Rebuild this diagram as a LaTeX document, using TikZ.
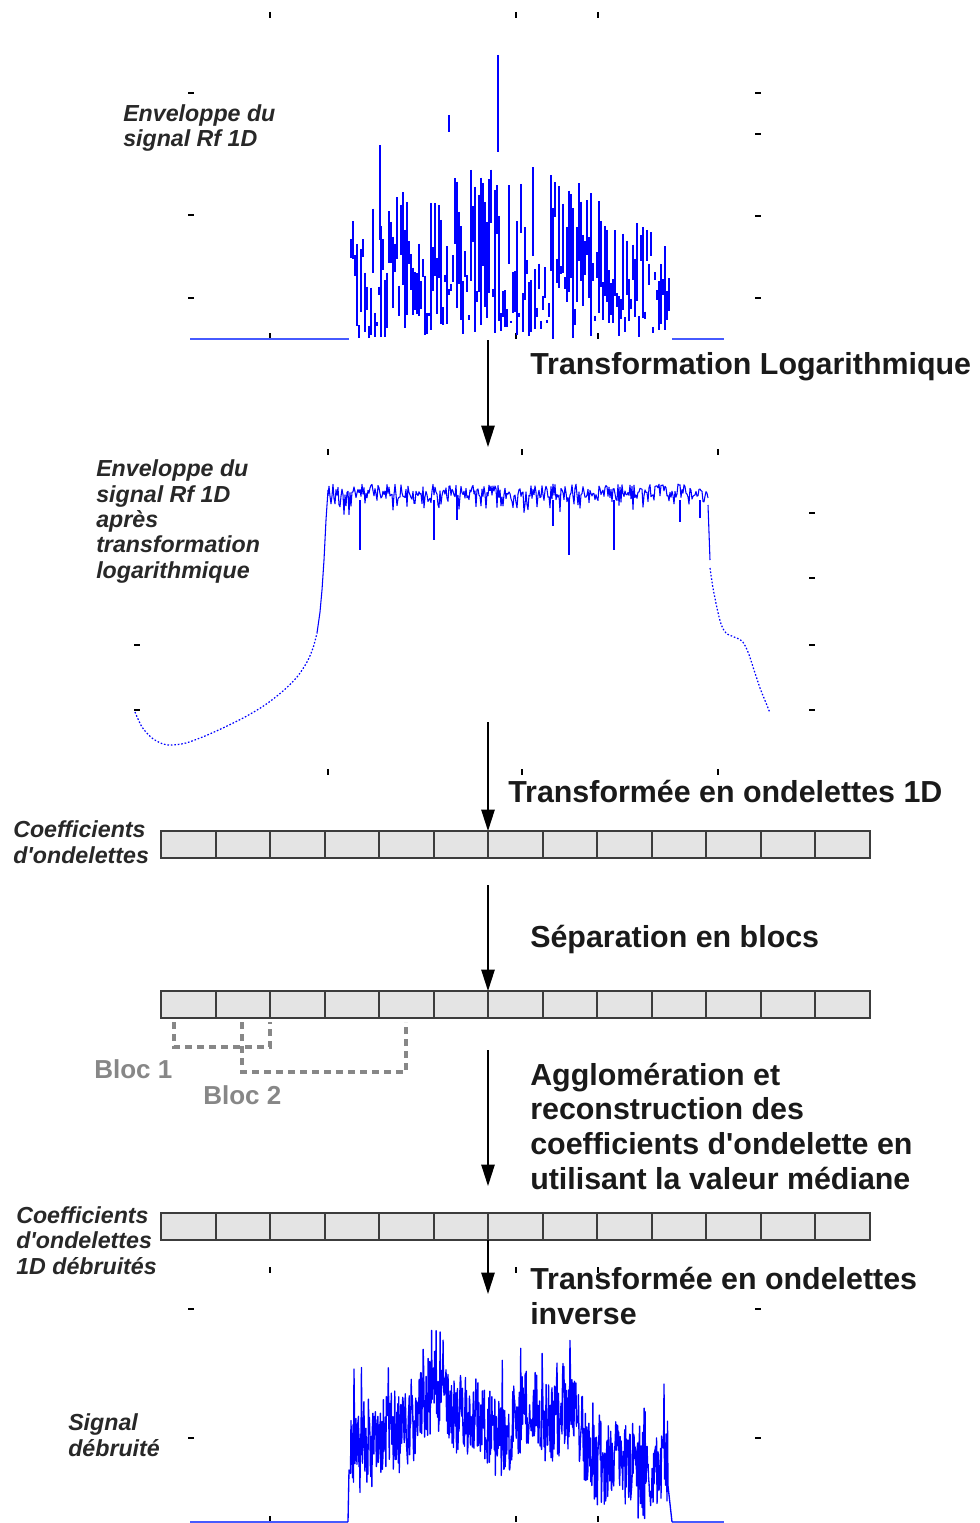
\documentclass[tikz,border=0pt]{standalone}
\usepackage{fontspec}
\setmainfont{Liberation Sans}
\usetikzlibrary{arrows.meta}

\definecolor{sigblue}{RGB}{0,0,255}
\definecolor{baseblue}{RGB}{70,90,255}
\definecolor{txtdark}{RGB}{26,26,26}
\definecolor{txtital}{RGB}{40,40,40}
\definecolor{blocgray}{RGB}{135,135,135}
\definecolor{cellfill}{RGB}{228,228,228}
\definecolor{cellline}{RGB}{60,60,60}

\tikzset{
  flowtxt/.style={font=\fontsize{22.8}{25.9}\selectfont\bfseries, text=txtdark, inner sep=0pt, anchor=base west, align=left},
  axtxt/.style={font=\fontsize{17.4}{19}\selectfont\bfseries\itshape, text=txtital, inner sep=0pt, anchor=base west, align=left},
  bloctxt/.style={font=\fontsize{19.5}{22}\selectfont\bfseries, text=blocgray, inner sep=0pt, anchor=base west},
  flowarrow/.style={draw=black, line width=1.1pt, -{Triangle[length=16pt,width=10pt]}},
  tick/.style={draw=black, line width=0.8pt},
  spike/.style={color=sigblue, draw=sigblue, line width=0.8pt},
  sig/.style={draw=sigblue, line width=0.8pt, line join=round},
  sigthick/.style={draw=sigblue, line width=1pt, line join=round},
  sigdot/.style={draw=sigblue, line width=0.9pt, dash pattern=on 1.2pt off 1.4pt},
  zero/.style={draw=baseblue, line width=1.1pt},
  cellbox/.style={draw=cellline, fill=cellfill, line width=2pt},
  cellsep/.style={draw=cellline, line width=1.5pt},
  blocline/.style={draw=blocgray, line width=2.3pt, dash pattern=on 5pt off 4pt}
}

\begin{document}
\begin{tikzpicture}[x=0.75pt,y=0.75pt,yscale=-1,xscale=1]
\useasboundingbox (0,0) rectangle (980,1523);
\pgfmathsetseed{4711}

%Plot 1: axes ticks
\foreach \tx in {270,516,598}{
  \draw[tick] (\tx,12) -- (\tx,18);
  \draw[tick] (\tx,333) -- (\tx,339);
}
\foreach \ty in {93,215,298} \draw[tick] (188,\ty) -- (194,\ty);
\foreach \ty in {93,134,216,298} \draw[tick] (755,\ty) -- (761,\ty);
%Plot 1: zero level
\draw[zero] (190,339) -- (349,339);
\draw[zero] (672,339) -- (724,339);
%Plot 1: envelope spikes
\foreach \i in {0,...,159}{
  \pgfmathsetmacro{\xs}{351+2*\i}
  \pgfmathsetmacro{\env}{120+65*sin(0.5625*(\xs-350))-20*(\xs-350)/320}
  \pgfmathsetmacro{\ya}{339-\env*(0.1+0.9*rnd)}
  \pgfmathsetmacro{\yb}{\ya+(339-\ya)*(0.1+0.9*rnd)}
  \draw[spike] (\xs,\ya) -- (\xs,\yb);
}
\draw[spike] (498,55) -- (498,152);
\draw[spike] (449,115) -- (449,132);
\draw[spike] (380,145) -- (380,240);

% Text Node
\node[axtxt] (lbenv) at (123,147) {Enveloppe du\\signal Rf 1D};

%Straight Lines
\coordinate (a1s) at (488,340);
\coordinate (a1e) at (488,447);
\draw[flowarrow] (a1s) -- (a1e);
% Text Node
\node[flowtxt] (lblog) at (530,374) {Transformation Logarithmique};

%Plot 2: axes ticks
\foreach \tx in {328,522,718}{
  \draw[tick] (\tx,449) -- (\tx,455);
  \draw[tick] (\tx,769) -- (\tx,775);
}
\foreach \ty in {645,710} \draw[tick] (134,\ty) -- (140,\ty);
\foreach \ty in {513,578,645,710} \draw[tick] (809,\ty) -- (815,\ty);
%Plot 2: log envelope
\draw[sigdot] plot[smooth] coordinates {(135,712) (142,727) (152,738) (163,744) (172,745) (186,743) (205,736) (225,727) (245,717) (265,705) (283,691) (297,677) (307,662) (313,648) (317,633)};
\draw[sig] (317,633) -- (320,612) -- (322,590) -- (324,560) -- (326,520) -- (328,490);
\draw[sig] plot[domain=328:708, samples=381, variable=\x] (\x,{484+13*rnd+20*rnd^4});
\foreach \dx/\dy in {360/550, 434/540, 457/520, 553/526, 569/555, 614/550, 680/522, 700/518}
  \draw[sig] (\dx,500) -- (\dx,\dy);
\draw[sig] (708,505) -- (710,560);
\draw[sigdot] plot[smooth] coordinates {(710,568) (713,588) (717,608) (721,624) (726,633) (734,637) (742,641) (748,652) (754,670) (760,688) (766,703) (770,713)};

% Text Node
\node[axtxt] (lbloge) at (96,578) {Enveloppe du\\signal Rf 1D\\après\\transformation\\logarithmique};

%Straight Lines
\coordinate (a2s) at (488,722);
\draw[flowarrow] (a2s) -- (488,831) coordinate (barA);
% Text Node
\node[flowtxt] (lbwav) at (508,802) {Transformée en ondelettes 1D};

%Shape: coefficient bars
\foreach \by in {831,991,1213}{
  \draw[cellbox] (161,\by) rectangle (870,\by+27);
  \foreach \k in {1,...,12}
    \draw[cellsep] (161+\k*54.54,\by) -- (161+\k*54.54,\by+27);
}
\coordinate (barB) at (488,991);
\coordinate (barC) at (488,1240);

% Text Node
\node[axtxt] (lbcoef) at (13,863) {Coefficients\\d\textquotesingle ondelettes};

%Straight Lines
\coordinate (a3s) at (488,885);
\draw[flowarrow] (a3s) -- (barB);
% Text Node
\node[flowtxt] (lbsep) at (530,947) {Séparation en blocs};

%Bloc brackets
\draw[blocline] (174,1022) -- (174,1047) -- (270,1047) -- (270,1022);
\draw[blocline] (242,1022) -- (242,1072) -- (406,1072) -- (406,1022);
\node[bloctxt] (lbb1) at (94,1078) {Bloc 1};
\node[bloctxt] (lbb2) at (203,1104) {Bloc 2};

%Straight Lines
\coordinate (a4s) at (488,1050);
\coordinate (a4e) at (488,1186);
\draw[flowarrow] (a4s) -- (a4e);
% Text Node
\node[flowtxt] (lbagg) at (530,1189) {Agglomération et\\reconstruction des\\coefficients d\textquotesingle ondelette en\\utilisant la valeur médiane};

% Text Node
\node[axtxt] (lbden) at (16,1274) {Coefficients\\d\textquotesingle ondelettes\\1D débruités};

%Straight Lines
\coordinate (a5e) at (488,1294);
\draw[flowarrow] (barC) -- (a5e);
% Text Node
\node[flowtxt] (lbinv) at (530,1324) {Transformée en ondelettes\\inverse};

%Plot 3: axes ticks
\foreach \tx in {270,516,598}{
  \draw[tick] (\tx,1267) -- (\tx,1273);
  \draw[tick] (\tx,1516) -- (\tx,1522);
}
\foreach \ty in {1309,1438} \draw[tick] (188,\ty) -- (194,\ty);
\foreach \ty in {1309,1438} \draw[tick] (755,\ty) -- (761,\ty);
%Plot 3: zero level
\draw[zero] (190,1522) -- (348,1522);
\draw[zero] (672,1522) -- (724,1522);
%Plot 3: denoised signal
\draw[sigthick] (348,1522) -- (349,1470) -- plot[domain=350:668, samples=640, variable=\x]
  (\x,{1440-35*sin(0.5625*(\x-350))+50*((\x-350)/320)^2+14*sin(3.1*(\x-350))+10*sin(7.7*(\x-350))+40*rand-70*rnd^12}) -- (672,1522);

% Text Node
\node[axtxt] (lbsig) at (68,1456) {Signal\\débruité};

\end{tikzpicture}
\end{document}
